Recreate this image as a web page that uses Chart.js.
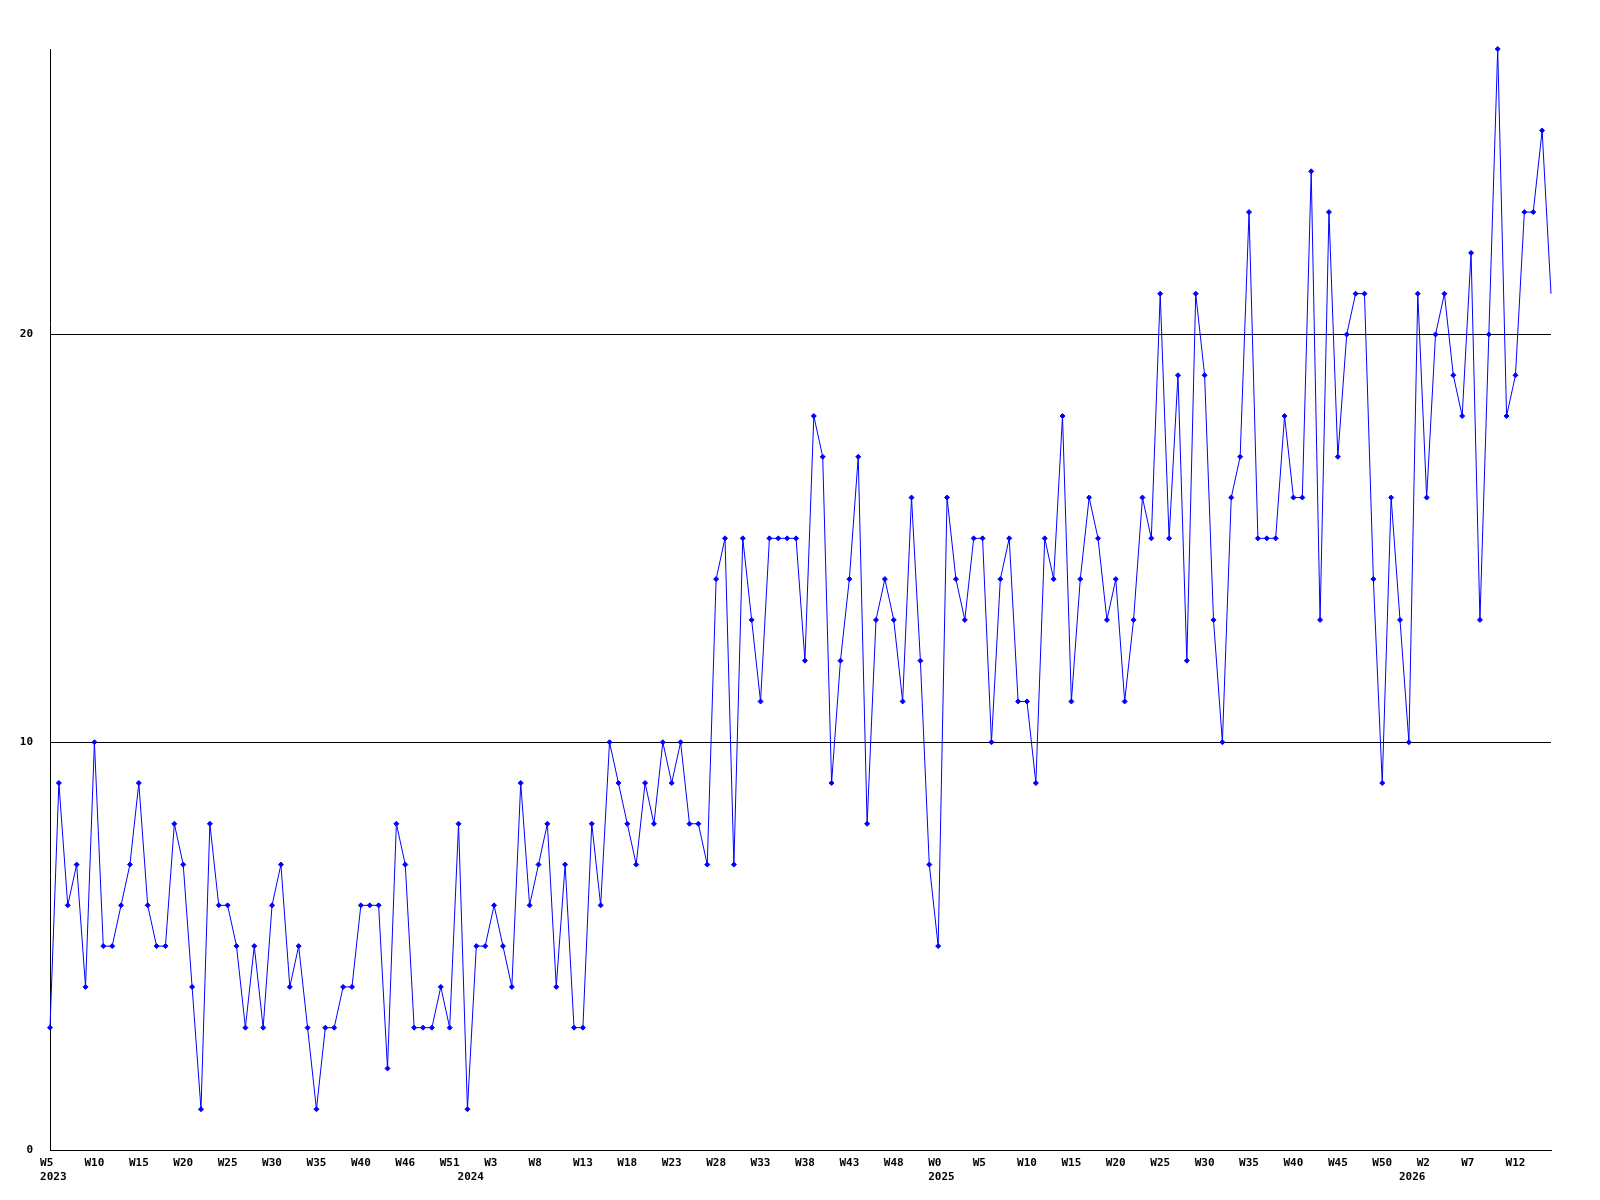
<!DOCTYPE html>
<html>
<head>
<meta charset="utf-8">
<script src="https://cdn.jsdelivr.net/npm/chart.js@4"></script>
<style>
  html, body { margin: 0; padding: 0; background: #ffffff; }
  #chart { display: block; }
</style>
</head>
<body>
<canvas id="chart" width="1600" height="1200"></canvas>
<script>
// === Data ===
const weekLabels = [
    // 2023
    "W5","W6","W7","W8","W9","W10","W11","W12","W13","W14","W15","W16","W17","W18","W19","W20",
    "W21","W22","W23","W24","W25","W26","W27","W28","W29","W30","W31","W32","W33","W34","W35",
    "W36","W37","W38","W39","W40","W41","W42","W43","W44","W46","W47","W48","W49","W50","W51","W52",
    // 2024
    "W0","W1","W2","W3","W4","W5","W6","W7","W8","W9","W10","W11","W12","W13","W14","W15","W16",
    "W17","W18","W19","W20","W21","W22","W23","W24","W25","W26","W27","W28","W29","W30","W31","W32",
    "W33","W34","W35","W36","W37","W38","W39","W40","W41","W42","W43","W44","W45","W46","W47","W48",
    "W49","W50","W51","W52",
    // 2025
    "W0","W1","W2","W3","W4","W5","W6","W7","W8","W9","W10","W11","W12","W13","W14","W15","W16",
    "W17","W18","W19","W20","W21","W22","W23","W24","W25","W26","W27","W28","W29","W30","W31","W32",
    "W33","W34","W35","W36","W37","W38","W39","W40","W41","W42","W43","W44","W45","W46","W47","W48",
    "W49","W50","W51","W52",
    // 2026
    "W0","W1","W2","W3","W4","W5","W6","W7","W8","W9","W10","W11","W12","W13","W14","W15","W16"
];

const yearLabels = ["2023", "2024", "2025", "2026"];
const yearStartIndex = [0, 47, 100, 153];

const weeklyCounts = [
    3, 9, 6, 7, 4, 10, 5, 5, 6, 7,
    9, 6, 5, 5, 8, 7, 4, 1, 8, 6,
    6, 5, 3, 5, 3, 6, 7, 4, 5, 3,
    1, 3, 3, 4, 4, 6, 6, 6, 2, 8,
    7, 3, 3, 3, 4, 3, 8, 1, 5, 5,
    6, 5, 4, 9, 6, 7, 8, 4, 7, 3,
    3, 8, 6, 10, 9, 8, 7, 9, 8, 10,
    9, 10, 8, 8, 7, 14, 15, 7, 15, 13,
    11, 15, 15, 15, 15, 12, 18, 17, 9, 12,
    14, 17, 8, 13, 14, 13, 11, 16, 12, 7,
    5, 16, 14, 13, 15, 15, 10, 14, 15, 11,
    11, 9, 15, 14, 18, 11, 14, 16, 15, 13,
    14, 11, 13, 16, 15, 21, 15, 19, 12, 21,
    19, 13, 10, 16, 17, 23, 15, 15, 15, 18,
    16, 16, 24, 13, 23, 17, 20, 21, 21, 14,
    9, 16, 13, 10, 21, 16, 20, 21, 19, 18,
    22, 13, 20, 27, 18, 19, 23, 23, 25, 21
];

const yTicks = [0, 10, 20];
const yMax = 27;
const labelEvery = 5;

// === Chart ===
const FONT = { family: "'DejaVu Sans Mono', monospace", size: 11, weight: "bold", lineHeight: 1.3 };

function xTickLabel(index) {
    let week = "";
    if (index % labelEvery === 0) {
        week = weekLabels[index];
        while (week.length < 3) week += " ";
    }
    const y = yearStartIndex.indexOf(index);
    if (y >= 0) return [week, " " + yearLabels[y]];
    return week;
}

new Chart(document.getElementById("chart"), {
    type: "line",
    data: {
        labels: weekLabels,
        datasets: [{
            data: weeklyCounts,
            borderColor: "#0000ff",
            backgroundColor: "#0000ff",
            borderWidth: 1,
            tension: 0,
            fill: false,
            pointStyle: "rectRot",
            pointRadius: ctx => ctx.dataIndex === weeklyCounts.length - 1 ? 0 : 2.5,
            pointBorderWidth: 1,
            pointBorderColor: "#0000ff",
            pointBackgroundColor: "#0000ff",
            clip: false,
        }],
    },
    options: {
        responsive: false,
        devicePixelRatio: 1,
        animation: false,
        events: [],
        layout: { padding: { top: 49, right: 49, left: 0, bottom: 0 } },
        plugins: {
            legend: { display: false },
            tooltip: { enabled: false },
        },
        scales: {
            x: {
                offset: false,
                grid: { display: false, drawTicks: false },
                border: { display: true, color: "#000000", width: 1 },
                ticks: {
                    autoSkip: false,
                    maxRotation: 0,
                    minRotation: 0,
                    padding: 6,
                    color: "#000000",
                    font: FONT,
                    callback: (value, index) => xTickLabel(index),
                },
                afterFit: scale => { scale.height = 50; },
            },
            y: {
                min: 0,
                max: yMax,
                grid: { color: "#000000", lineWidth: 1, drawTicks: false },
                border: { display: true, color: "#000000", width: 1 },
                afterBuildTicks: scale => { scale.ticks = yTicks.map(v => ({ value: v })); },
                ticks: {
                    padding: 17,
                    color: "#000000",
                    font: FONT,
                },
                afterFit: scale => { scale.width = 50; },
            },
        },
    },
});
</script>
</body>
</html>
